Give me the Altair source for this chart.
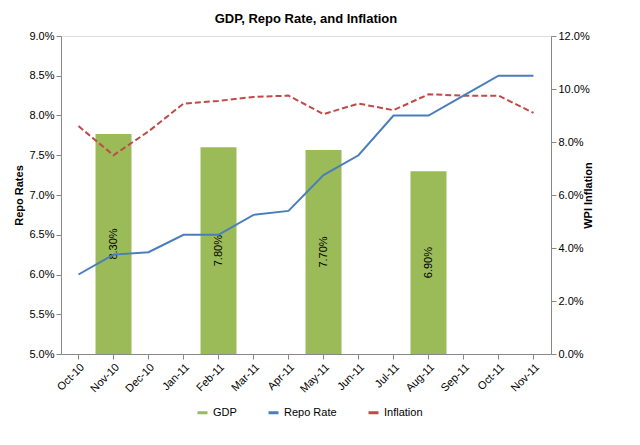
import altair as alt
import pandas as pd

months = ["Oct-10", "Nov-10", "Dec-10", "Jan-11", "Feb-11", "Mar-11", "Apr-11",
          "May-11", "Jun-11", "Jul-11", "Aug-11", "Sep-11", "Oct-11", "Nov-11"]
repo = [6.0, 6.25, 6.28, 6.5, 6.5, 6.75, 6.8, 7.25, 7.5, 8.0, 8.0, 8.25, 8.5, 8.5]
inflation = [8.6, 7.5, 8.4, 9.45, 9.55, 9.7, 9.75, 9.05, 9.45, 9.2, 9.8, 9.75, 9.75, 9.1]
gdp_months = ["Nov-10", "Feb-11", "May-11", "Aug-11"]
gdp = [8.3, 7.8, 7.7, 6.9]
gdp_labels = ["8.30%", "7.80%", "7.70%", "6.90%"]

lines = pd.DataFrame({"month": months, "repo": [v / 100 for v in repo],
                      "infl": [v / 100 for v in inflation]})
bars = pd.DataFrame({"month": gdp_months, "gdp": [v / 100 for v in gdp],
                     "mid": [v / 200 for v in gdp], "label": gdp_labels})

color = alt.Color("series:N", title=None,
                  scale=alt.Scale(domain=["GDP", "Repo Rate", "Inflation"],
                                  range=["#9bbb59", "#4a7ebb", "#be4b48"]),
                  legend=alt.Legend(orient="none", direction="horizontal",
                                    legendX=135, legendY=370, symbolType="stroke",
                                    symbolStrokeWidth=3, labelFontSize=11, columnPadding=25))
x = alt.X("month:N", sort=months, title=None,
          axis=alt.Axis(labelAngle=-45, labelFontSize=11, ticks=True, domainColor="#888"))

right_scale = alt.Scale(domain=[0, 0.12])
right_axis = alt.Axis(format=".1%", orient="right", tickCount=7, grid=False, titleAngle=270,
                      titleFontWeight="bold", labelFontSize=11, domainColor="#888")
bar = alt.Chart(bars).mark_bar(size=36).encode(
    x=x,
    y=alt.Y("gdp:Q", scale=right_scale, title="WPI Inflation", axis=right_axis),
    color=color,
).transform_calculate(series="'GDP'")
txt = alt.Chart(bars).mark_text(angle=270, fontSize=11).encode(
    x=alt.X("month:N", sort=months),
    y=alt.Y("mid:Q", scale=right_scale, title="WPI Inflation", axis=right_axis),
    text="label:N")
infl = alt.Chart(lines).mark_line(strokeDash=[6, 3], strokeWidth=2).encode(
    x=x, y=alt.Y("infl:Q", scale=right_scale, title="WPI Inflation", axis=right_axis),
    color=color,
).transform_calculate(series="'Inflation'")
right = alt.layer(bar, txt, infl)

left = alt.Chart(lines).mark_line(strokeWidth=2).encode(
    x=x,
    y=alt.Y("repo:Q", scale=alt.Scale(domain=[0.05, 0.09]), title="Repo Rates",
            axis=alt.Axis(format=".1%", tickCount=8, gridColor="#d9d9d9",
                          titleFontWeight="bold", labelFontSize=11, domainColor="#888")),
    color=color,
).transform_calculate(series="'Repo Rate'")

chart = alt.layer(right, left).resolve_scale(y="independent").properties(
    width=490, height=318,
    title=alt.TitleParams("GDP, Repo Rate, and Inflation", fontSize=13, fontWeight="bold"),
).configure_view(stroke=None).configure(font="Liberation Sans")

chart.save("out.html", embed_options={"renderer": "svg", "actions": False})
